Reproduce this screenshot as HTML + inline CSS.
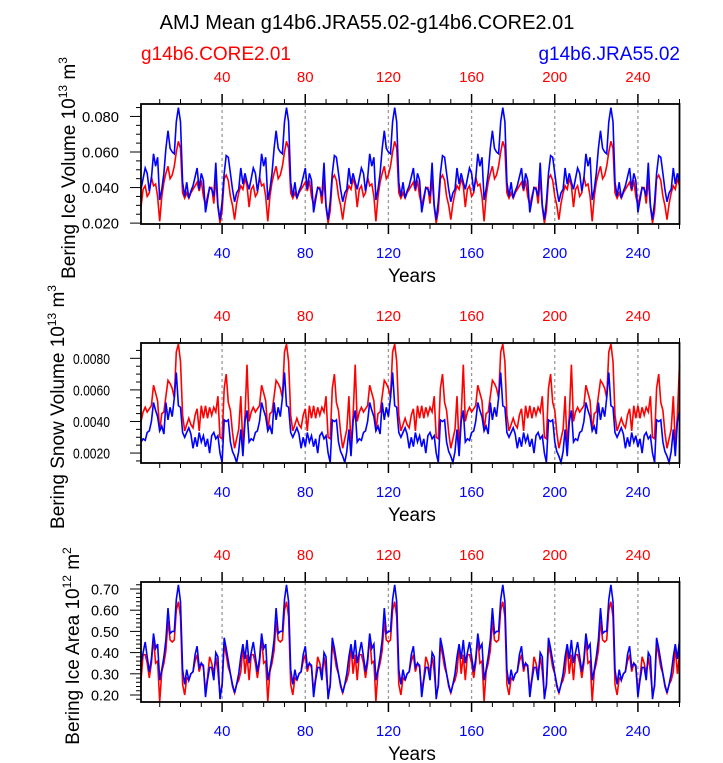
<!DOCTYPE html>
<html><head><meta charset="utf-8"><style>
body{margin:0;background:#fff;}
svg{display:block;font-family:"Liberation Sans",sans-serif;}
</style></head><body>
<svg id="chart" width="723" height="763" viewBox="0 0 723 763">
<text x="367" y="29" font-size="20" text-anchor="middle">AMJ Mean g14b6.JRA55.02-g14b6.CORE2.01</text>
<text x="141" y="60" font-size="19" fill="#f00">g14b6.CORE2.01</text>
<text x="680" y="60" font-size="19" fill="#00f" text-anchor="end">g14b6.JRA55.02</text>
</svg>
<script>
// one 52-year forcing cycle, repeated 5 times in the runs
const iceVolCore = [.029,.039,.041,.035,.037,.046,.041,.042,.035,.021,.035,.043,.048,.052,.045,.047,.052,.060,.066,.062,.037,.034,.037,.034,.037,.039,.041,.043,.038,.044,.035,.030,.035,.040,.040,.031,.045,.029,.020,.027,.045,.047,.044,.035,.030,.022,.031,.037,.041,.039,.045,.041];
const iceVolJra = [.039,.045,.051,.048,.038,.045,.059,.052,.057,.033,.039,.048,.062,.072,.062,.060,.059,.077,.085,.077,.043,.035,.043,.034,.038,.041,.046,.051,.039,.048,.044,.026,.033,.040,.039,.035,.054,.030,.022,.032,.048,.058,.057,.048,.039,.032,.037,.039,.051,.042,.048,.043];
const snowVolCore = [.0040,.0046,.0049,.0046,.0048,.0050,.0063,.0058,.0053,.0034,.0045,.0046,.0056,.0066,.0064,.0061,.0055,.0084,.0089,.0078,.0044,.0034,.0038,.0042,.0038,.0036,.0044,.0048,.0034,.0050,.0042,.0050,.0042,.0049,.0044,.0049,.0046,.0056,.0030,.0029,.0061,.0070,.0052,.0047,.0033,.0023,.0029,.0035,.0056,.0024,.0044,.0076];
const snowVolJra = [.0027,.0029,.0028,.0033,.0034,.0040,.0052,.0047,.0043,.0034,.0037,.0032,.0052,.0041,.0049,.0043,.0055,.0071,.0050,.0049,.0033,.0030,.0033,.0036,.0032,.0023,.0030,.0024,.0033,.0027,.0031,.0024,.0029,.0020,.0031,.0033,.0029,.0031,.0020,.0014,.0041,.0040,.0041,.0027,.0021,.0018,.0014,.0021,.0035,.0018,.0040,.0047];
const iceAreaCore = [.27,.39,.39,.35,.28,.35,.47,.35,.36,.17,.31,.35,.41,.55,.46,.45,.46,.60,.64,.57,.25,.20,.28,.27,.30,.31,.36,.39,.31,.35,.33,.22,.28,.38,.35,.30,.38,.31,.20,.24,.44,.39,.33,.30,.24,.21,.25,.27,.31,.43,.30,.39];
const iceAreaJra = [.35,.40,.45,.38,.31,.37,.49,.42,.44,.27,.32,.38,.46,.61,.49,.50,.50,.65,.72,.64,.32,.25,.32,.27,.30,.31,.39,.43,.33,.35,.34,.19,.27,.33,.33,.27,.40,.38,.18,.25,.47,.42,.36,.30,.25,.21,.25,.30,.38,.44,.37,.46];
const xTicks = [40,80,120,160,200,240];

const NS = "http://www.w3.org/2000/svg";
const svg = document.getElementById('chart');
function el(tag, attrs, parent){const e=document.createElementNS(NS,tag);for(const k in attrs)e.setAttribute(k,attrs[k]);(parent||svg).appendChild(e);return e;}
function full(c){return [].concat(c,c,c,c,c);}
const X0=141,X1=679.5,XMIN=1,XMAX=260;
function xs(v){return X0+(v-XMIN)/(XMAX-XMIN)*(X1-X0);}

function panel(top, ymin, ymax, yMajor, yMinor, dec, title, sup, unitSup, core, jra, idx, labRight, labLen, titleX){
  const bot=top+120;
  const g=el('g',{});
  
  
  const ys=v=>bot-(v-ymin)/(ymax-ymin)*120;
  xTicks.forEach(t=>{
    const l=el('line',{x1:xs(t),x2:xs(t),y1:top,y2:bot,stroke:'#999','stroke-width':1.3,'stroke-dasharray':'3,3'},g);
    
    
  });
  [[core,'#f00','series-core'],[jra,'#00f','series-jra']].forEach(([arr,col,nm])=>{
    const d=full(arr).map((v,i)=>(i?'L':'M')+xs(i+1).toFixed(1)+','+ys(v).toFixed(1)).join('');
    const p=el('path',{d:d,fill:'none',stroke:col,'stroke-width':1.6},g);
    
    
  });
  for(let t=10;t<=260;t+=10){
    const maj=t%40===0;const L=maj?10:5;
    el('line',{x1:xs(t),x2:xs(t),y1:top,y2:top-L,stroke:'#000','stroke-width':maj?1.5:1},g);
    el('line',{x1:xs(t),x2:xs(t),y1:bot,y2:bot+L,stroke:'#000','stroke-width':maj?1.5:1},g);
  }
  xTicks.forEach(t=>{
    const a=el('text',{x:xs(t),y:top-22,'font-size':15,fill:'#f00','text-anchor':'middle'},g);a.textContent=t;
    
    
    const b=el('text',{x:xs(t),y:bot+34,'font-size':15,fill:'#00f','text-anchor':'middle'},g);b.textContent=t;
    
    
  });
  const eps=1e-9;
  for(let v=Math.ceil(ymin/yMinor-eps)*yMinor;v<=ymax+eps;v+=yMinor){
    const maj=Math.abs(v/yMajor-Math.round(v/yMajor))<1e-6;const L=maj?11:5;const y=ys(v);
    el('line',{x1:X0,x2:X0-L,y1:y,y2:y,stroke:'#000','stroke-width':1},g);
    if(maj){const tx=el('text',{x:labRight,y:y+5.5,'font-size':15,'text-anchor':'end',textLength:labLen,lengthAdjust:'spacingAndGlyphs'},g);tx.textContent=v.toFixed(dec);
      
      }
  }
  const box=el('rect',{x:X0,y:top,width:X1-X0,height:120,fill:'none',stroke:'#000','stroke-width':1.8},g);
  
  
  const yr=el('text',{x:412,y:bot+58,'font-size':19,'text-anchor':'middle'},g);yr.textContent='Years';
  
  
  const cy=top+64;
  const tt=el('text',{x:0,y:0,'font-size':19,'text-anchor':'middle',transform:`translate(${titleX},${cy}) rotate(-90)`},g);
  
  
  tt.innerHTML=title+' 10<tspan font-size="12" dy="-8">'+sup+'</tspan><tspan dy="8"> m</tspan><tspan font-size="12" dy="-8">'+unitSup+'</tspan>';
}
panel(104,0.0195,0.0870,0.02,0.005,3,'Bering Ice Volume','13','3',iceVolCore,iceVolJra,1,119,37,75);
panel(343,0.00137,0.00897,0.002,0.0005,4,'Bering Snow Volume','13','3',snowVolCore,snowVolJra,2,110,37,64);
panel(582,0.167,0.733,0.1,0.02,2,'Bering Ice Area','12','2',iceAreaCore,iceAreaJra,3,119,28,79);
</script>
</body></html>
